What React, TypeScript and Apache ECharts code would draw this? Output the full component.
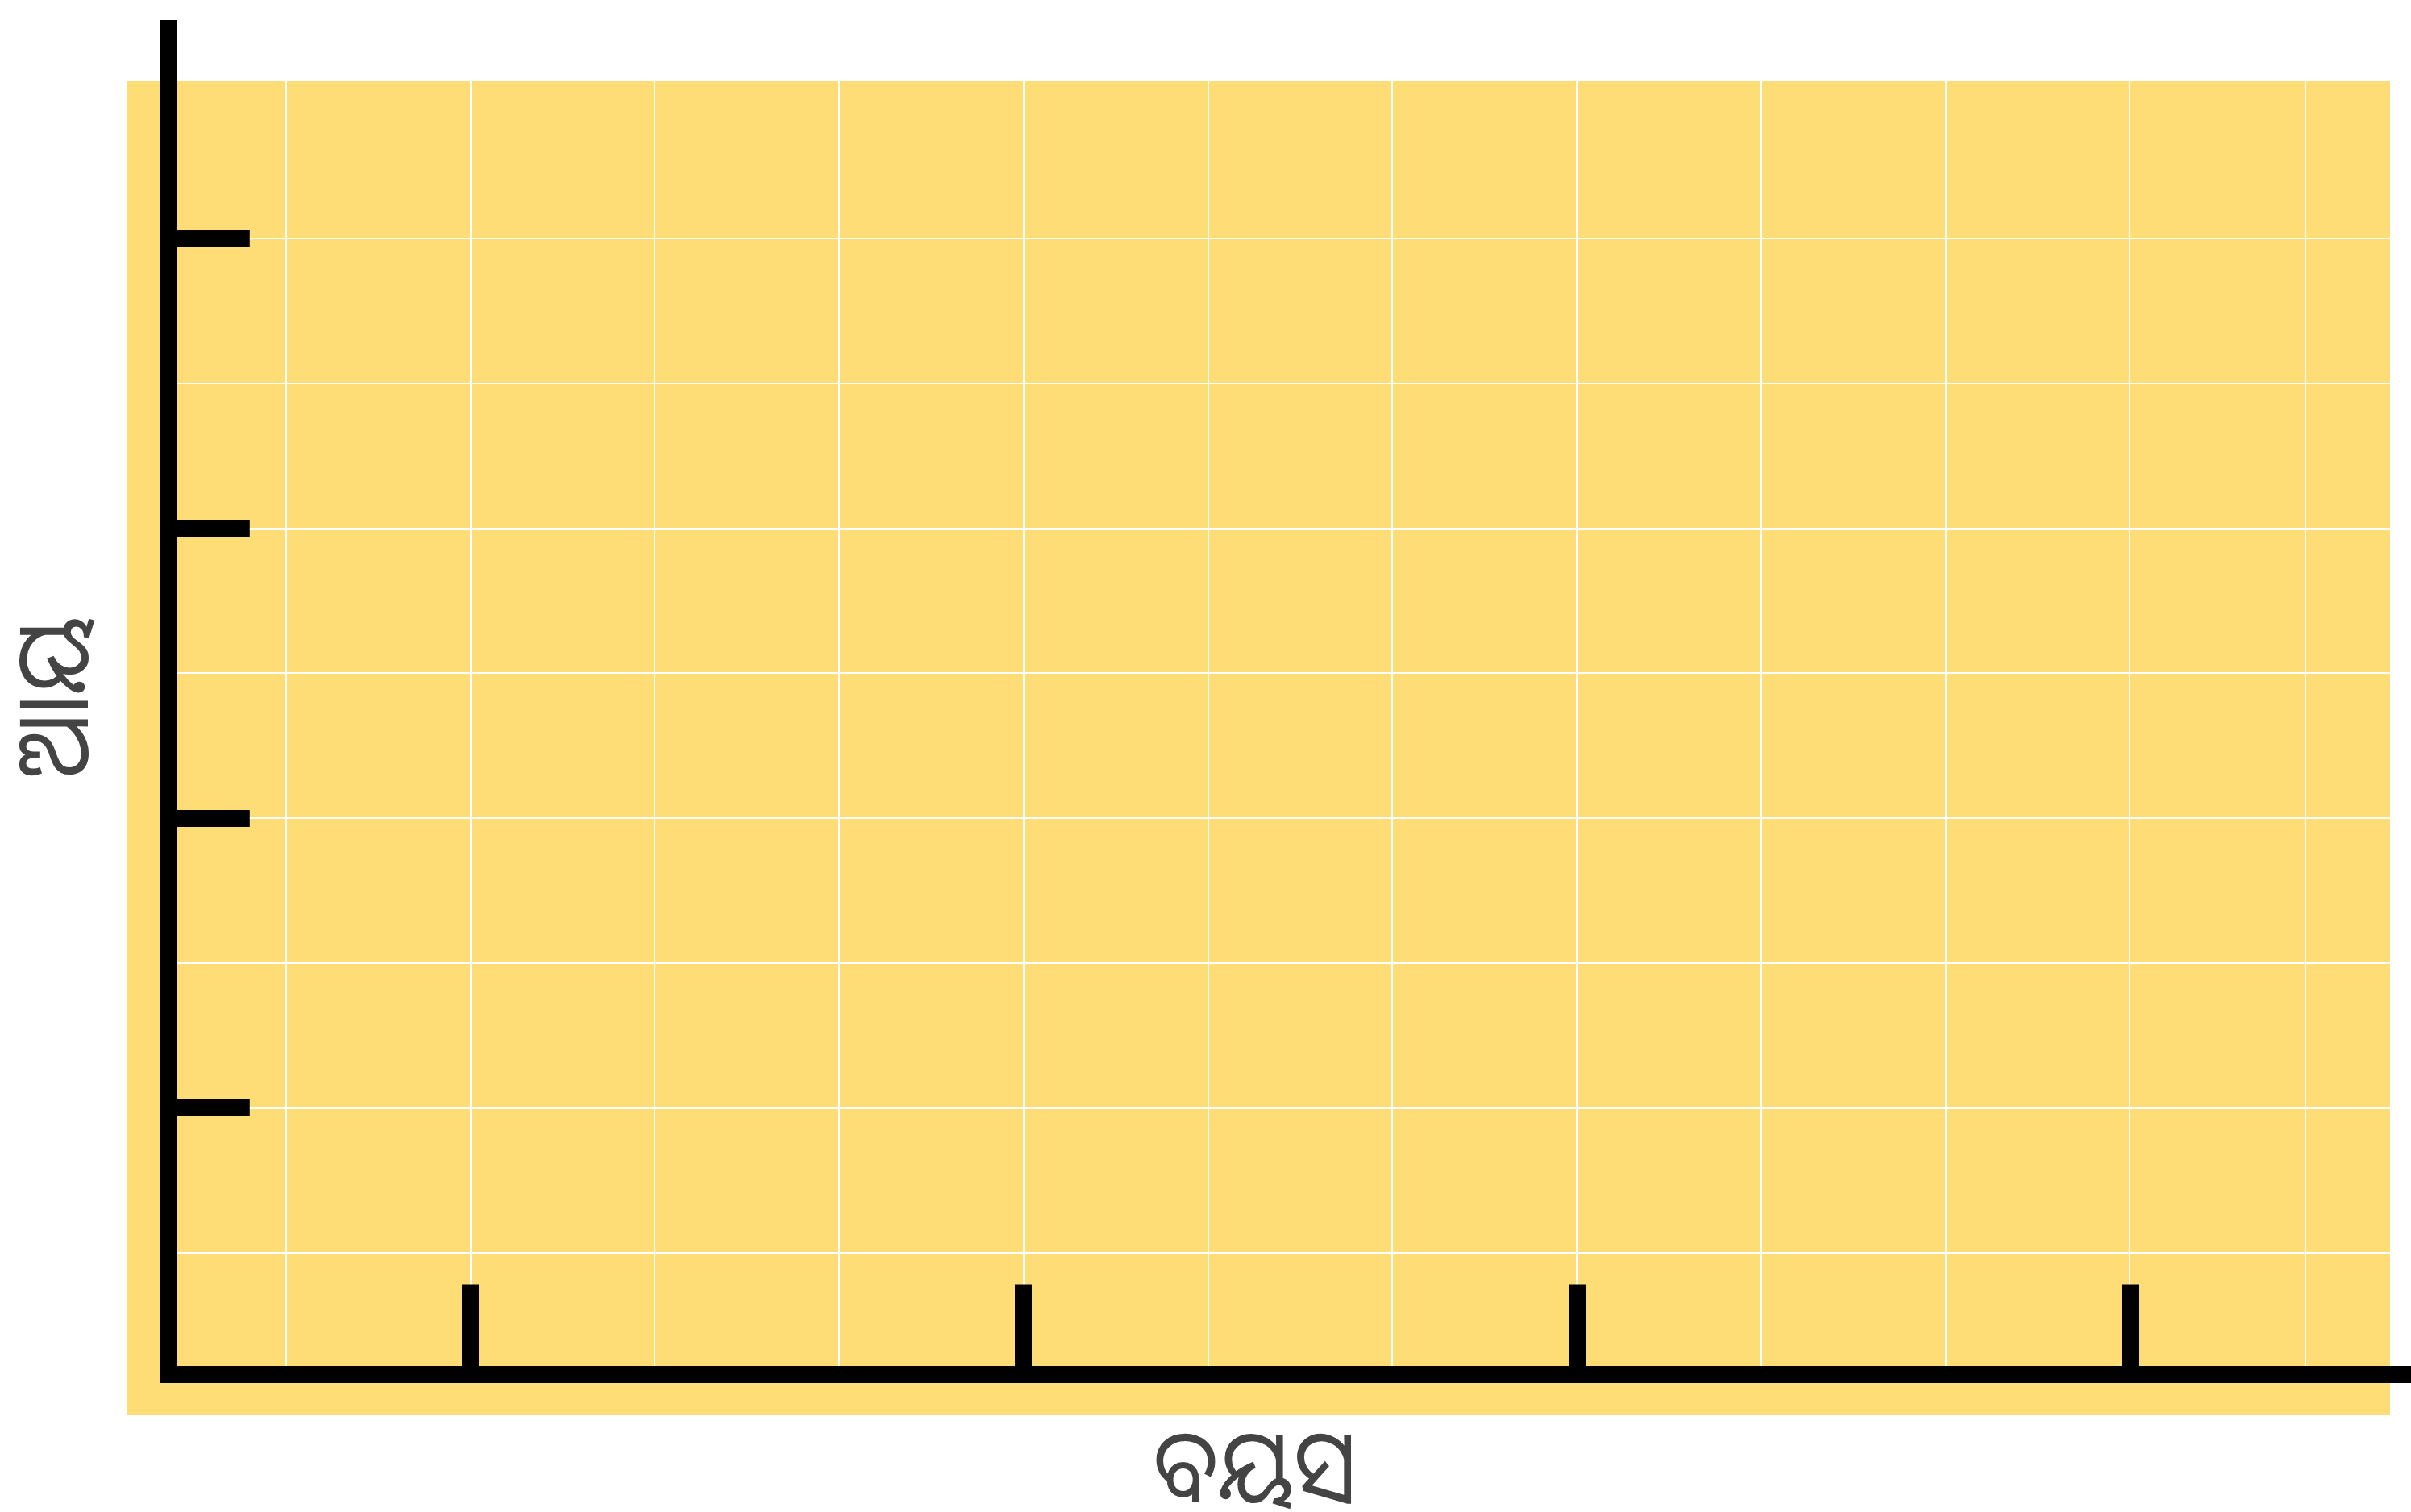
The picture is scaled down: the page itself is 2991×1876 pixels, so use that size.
import React, { useEffect, useRef } from "react";
import * as echarts from "echarts";

// ---- chart content ----
const xTitle = "ବୟସ";
const yTitle = "ଆୟ";

// x scale: vertical grid lines at every whole unit, the last panel line at the axis end
const xMin = 0;
const xMax = 10.953;
const xGridStep = 1;
const xTickValues = [1, 4, 7, 10];

// y scale: horizontal grid lines at every whole unit
const yMin = 1;
const yMax = 8;
const yGridStep = 1;
const yTickValues = [2, 4, 6, 8];

const W = 2991;
const H = 1876;
const PANEL = "#FEDD76";
const GRIDLINE = "#FFFFFF";
const INK = "#000000";
const TITLE = "#444444";
const FONT = "'Noto Sans Oriya', 'Noto Sans', 'DejaVu Sans', sans-serif";

export default function App() {
  const ref = useRef<HTMLDivElement | null>(null);

  useEffect(() => {
    document.body.style.margin = "0";
    document.body.style.overflow = "hidden";
    const el = ref.current;
    if (!el) return;
    const chart = echarts.init(el, undefined, { renderer: "svg", width: W, height: H });

    const axisX = 208.8; // centre of the y axis line
    const axisY = 1705.5; // centre of the x axis line

    const hidden = {
      axisLine: { show: false, onZero: false },
      axisTick: { show: false },
      axisLabel: { show: false },
      splitLine: { show: false },
    };

    const gridLineStyle = { color: GRIDLINE, width: 2 };

    const option: any = {
      animation: false,
      backgroundColor: "#ffffff",
      grid: [
        // axis lines
        { left: axisX, top: 35.5, right: 0, bottom: H - axisY },
        // horizontal grid lines + y ticks
        { left: axisX, top: 295.7, right: W - 2965, bottom: H - 1554.4 },
        // vertical grid lines + x ticks
        { left: 354.8, top: 100, right: W - 2860, bottom: H - axisY },
      ],
      xAxis: [
        {
          gridIndex: 0,
          type: "value",
          min: 0,
          max: 1,
          z: 10,
          ...hidden,
          axisLine: {
            show: true,
            onZero: false,
            lineStyle: { color: INK, width: 21, cap: "square" },
          },
        },
        { gridIndex: 1, type: "value", min: 0, max: 1, ...hidden },
        // x ticks
        {
          gridIndex: 2,
          type: "value",
          position: "bottom",
          min: xMin,
          max: xMax,
          interval: xGridStep,
          z: 4,
          ...hidden,
          axisTick: {
            show: true,
            inside: true,
            length: 112,
            customValues: xTickValues,
            lineStyle: { color: INK, width: 21 },
          },
        },
        // vertical grid lines
        {
          gridIndex: 2,
          type: "value",
          position: "top",
          min: xMin,
          max: xMax,
          interval: xGridStep,
          z: 3,
          ...hidden,
          splitLine: { show: true, showMinLine: true, showMaxLine: true, lineStyle: gridLineStyle },
        },
      ],
      yAxis: [
        {
          gridIndex: 0,
          type: "value",
          min: 0,
          max: 1,
          z: 10,
          ...hidden,
          axisLine: {
            show: true,
            onZero: false,
            lineStyle: { color: INK, width: 21, cap: "square" },
          },
        },
        // y ticks
        {
          gridIndex: 1,
          type: "value",
          position: "left",
          min: yMin,
          max: yMax,
          interval: yGridStep,
          z: 4,
          ...hidden,
          axisTick: {
            show: true,
            inside: true,
            length: 101,
            customValues: yTickValues,
            lineStyle: { color: INK, width: 21 },
          },
        },
        // horizontal grid lines
        {
          gridIndex: 1,
          type: "value",
          position: "right",
          min: yMin,
          max: yMax,
          interval: yGridStep,
          z: 3,
          ...hidden,
          splitLine: { show: true, showMinLine: true, showMaxLine: true, lineStyle: gridLineStyle },
        },
        { gridIndex: 2, type: "value", min: 0, max: 1, ...hidden },
      ],
      graphic: [
        {
          type: "rect",
          z: 0,
          silent: true,
          shape: { x: 157, y: 100, width: 2965 - 157, height: 1756 - 100 },
          style: { fill: PANEL },
        },
        {
          type: "text",
          z: 5,
          x: 1557,
          y: 1814,
          scaleX: 0.87,
          style: {
            text: xTitle,
            fill: TITLE,
            font: `128px ${FONT}`,
            lineHeight: 100,
            align: "center",
            verticalAlign: "middle",
          },
        },
        {
          type: "text",
          z: 5,
          x: 60,
          y: 865,
          rotation: Math.PI / 2,
          scaleX: 0.9,
          style: {
            text: yTitle,
            fill: TITLE,
            font: `128px ${FONT}`,
            lineHeight: 100,
            align: "center",
            verticalAlign: "middle",
          },
        },
      ],
      series: [],
    };

    chart.setOption(option);
    return () => {
      chart.dispose();
    };
  }, []);

  return (
    <div
      ref={ref}
      style={{ position: "absolute", left: 0, top: 0, width: W, height: H }}
    />
  );
}
